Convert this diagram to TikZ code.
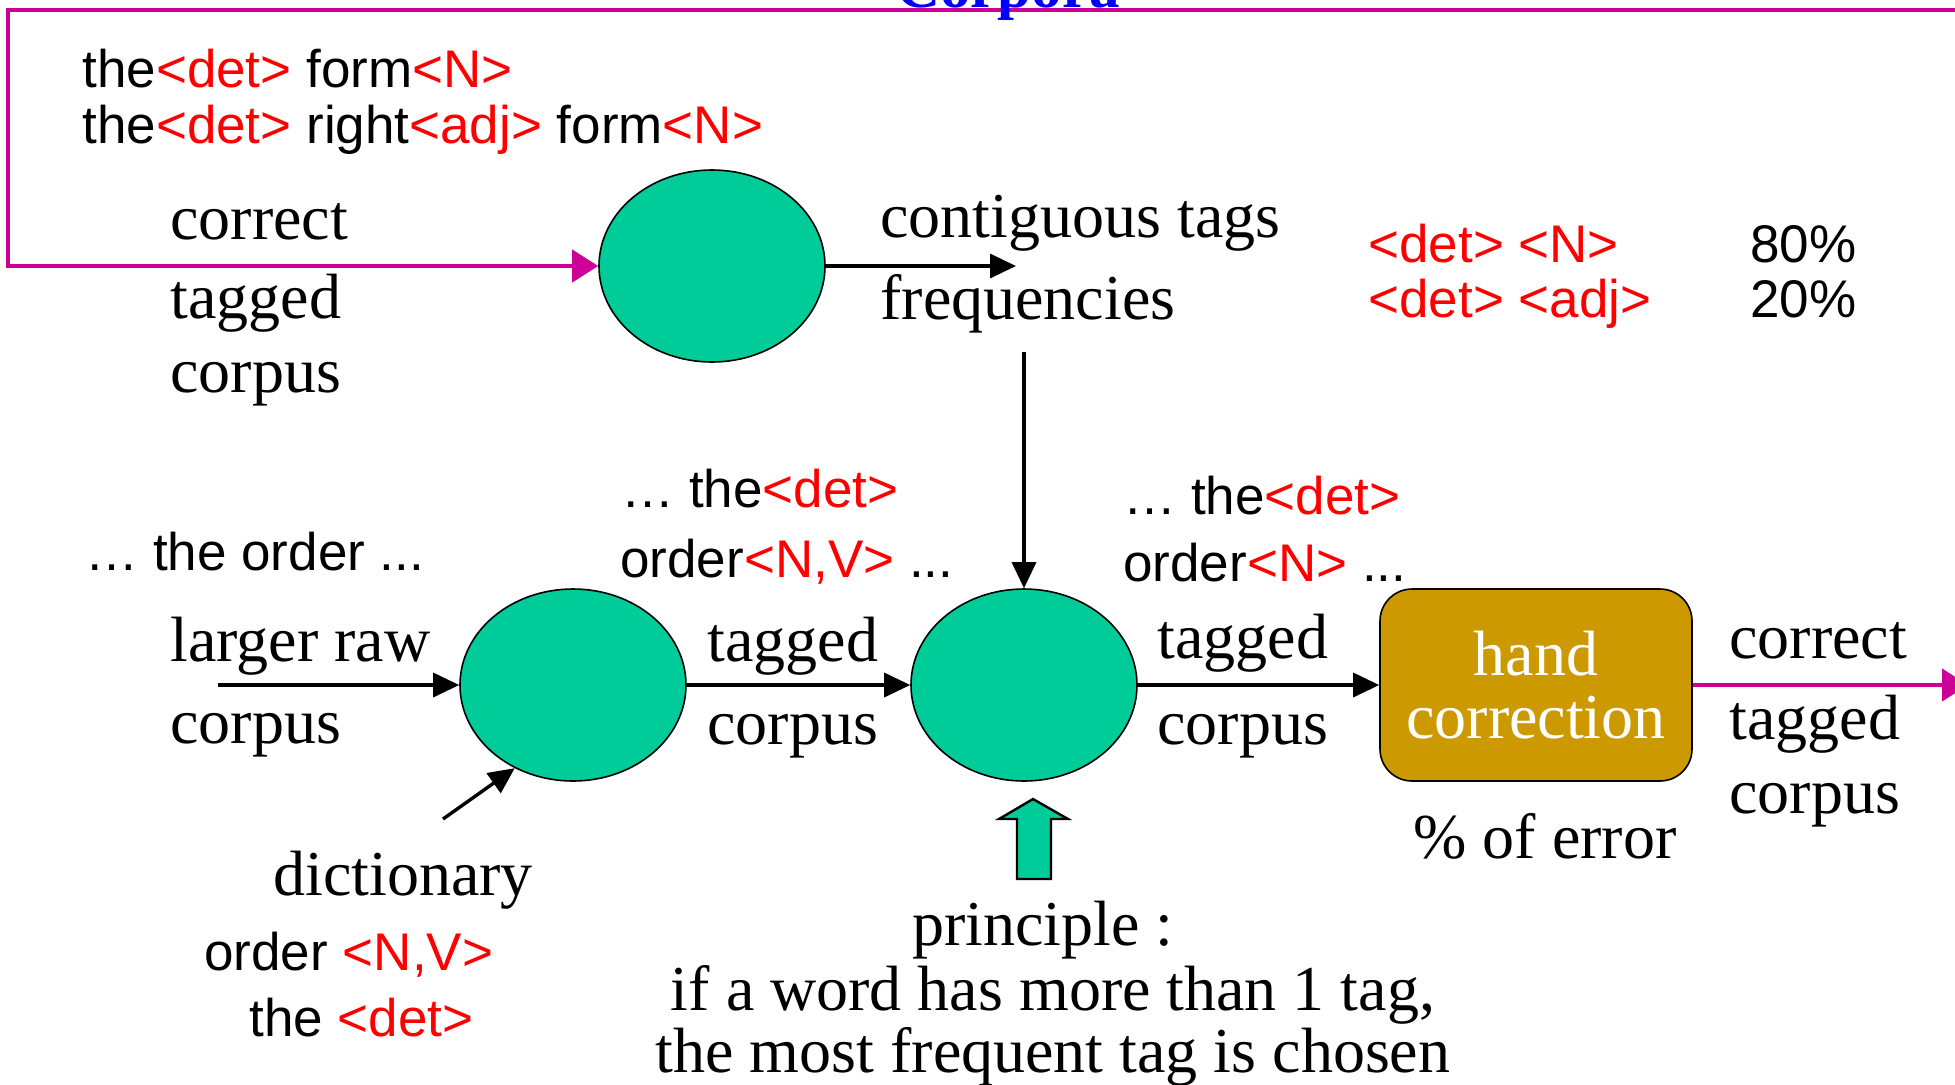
\documentclass[tikz,border=0pt]{standalone}
\usepackage{fontspec}
\setmainfont{Liberation Serif}
\setsansfont{Liberation Sans}
\usetikzlibrary{arrows.meta,shapes.geometric}

\definecolor{tagred}{RGB}{255,0,0}
\definecolor{procgreen}{RGB}{0,204,153}
\definecolor{handgold}{RGB}{204,153,0}
\definecolor{loopmag}{RGB}{204,0,153}
\definecolor{titleblue}{RGB}{0,0,255}

\newcommand\tg[1]{\textcolor{tagred}{#1}}

\tikzset{
  serif/.style={font=\fontsize{32}{38}\selectfont, inner sep=0pt, anchor=base west},
  sans/.style={font=\sffamily\fontsize{26.5}{32}\selectfont, inner sep=0pt, anchor=base west},
  proc/.style={ellipse, draw, line width=0.8pt, fill=procgreen, inner sep=0pt,
               minimum width=113pt, minimum height=96pt},
  handbox/.style={draw, line width=0.8pt, fill=handgold, rounded corners=16pt,
               minimum width=156pt, minimum height=96pt, inner sep=0pt,
               align=center, text=white, font=\fontsize{32}{31.5}\selectfont},
  arr/.style={line width=1.7pt, -{Triangle[length=13pt,width=12pt]}},
  magarr/.style={draw=loopmag, line width=2.1pt,
               -{Triangle[length=13pt,width=16pt]}, color=loopmag},
}

\begin{document}
\begin{tikzpicture}[x=0.5pt,y=-0.5pt]
\useasboundingbox (0,0) rectangle (1955,1084);

% example sentences of the training corpus
\node[sans] (ex1) at (82,87)  {the\tg{<det>} form\tg{<N>}};
\node[sans] (ex2) at (82,143) {the\tg{<det>} right\tg{<adj>} form\tg{<N>}};

\node[serif] (c1) at (170,239) {correct};
\node[serif] (c2) at (170,318) {tagged};
\node[serif] (c3) at (170,392) {corpus};

% counting process
\node[proc] (T) at (712,266) {};

\node[serif] (ct1) at (880,237) {contiguous tags};
\node[serif] (ct2) at (880,319) {frequencies};

\node[sans, text=tagred] (f1) at (1368,262) {<det> <N>};
\node[sans, text=tagred] (f2) at (1368,317) {<det> <adj>};
\node[sans] (p1) at (1750,262) {80\%};
\node[sans] (p2) at (1750,317) {20\%};

% tagging chain
\node[sans] (raw) at (85,570) {… the order ...};
\node[serif] (in1) at (170,661) {larger raw};
\node[serif] (in2) at (170,743) {corpus};

\node[proc] (L) at (573,685) {};
\node[proc] (M) at (1024,685) {};
\node[handbox] (H) at (1536,685) {hand\\correction};

\node[sans] (m1) at (621,507) {… the\tg{<det>}};
\node[sans] (m2) at (620,577) {order\tg{<N,V>} ...};
\node[serif] (mt1) at (707,661) {tagged};
\node[serif] (mt2) at (707,744) {corpus};

\node[sans] (r1) at (1123,514) {… the\tg{<det>}};
\node[sans] (r2) at (1123,581) {order\tg{<N>} ...};
\node[serif] (rt1) at (1157,658) {tagged};
\node[serif] (rt2) at (1157,744) {corpus};

\node[serif] (o1) at (1729,658) {correct};
\node[serif] (o2) at (1729,739) {tagged};
\node[serif] (o3) at (1729,813) {corpus};

\node[serif] (err) at (1413,858) {\% of error};

% dictionary
\node[serif] (dict) at (273,895) {dictionary};
\node[sans] (d1) at (204,970) {order \tg{<N,V>}};
\node[sans] (d2) at (249,1036) {the \tg{<det>}};

% principle
\node[serif, anchor=base] (pr1) at (1043,945)  {principle :};
\node[serif, anchor=base] (pr2) at (1053,1010) {if a word has more than 1 tag,};
\node[serif, anchor=base] (pr3) at (1053,1072) {the most frequent tag is chosen};

% free ends of connectors
\coordinate (loopL) at (8,10);
\coordinate (loopR) at (1965,10);
\coordinate (fq)    at (1016,266);
\coordinate (fqb)   at (1024,352);
\coordinate (rawin) at (218,685);
\coordinate (dic)   at (443,819);
\coordinate (out)   at (1968,685);

% connectors
\draw[magarr] (loopR) -- (loopL) |- (T.west);
\draw[arr] (T) -- (fq);
\draw[arr] (fqb) -- (M);
\draw[arr] (rawin) -- (L);
\draw[arr] (L) -- (M);
\draw[arr] (M) -- (H);
\draw[arr] (dic) -- (L.235);
\draw[magarr] (H) -- (out);

% heading, partly above the page edge, over the feedback line
\node[font=\bfseries\fontsize{30.5}{36}\selectfont, text=titleblue, inner sep=0pt,
      anchor=base] (title) at (1008,7) {Corpora};

% block arrow pointing at the tagger
\draw[line width=1.2pt, fill=procgreen, line join=miter]
  (1017,879) -- (1017,819) -- (999,819) -- (1033,799) -- (1068,819)
  -- (1051,819) -- (1051,879) -- cycle;
\end{tikzpicture}
\end{document}
